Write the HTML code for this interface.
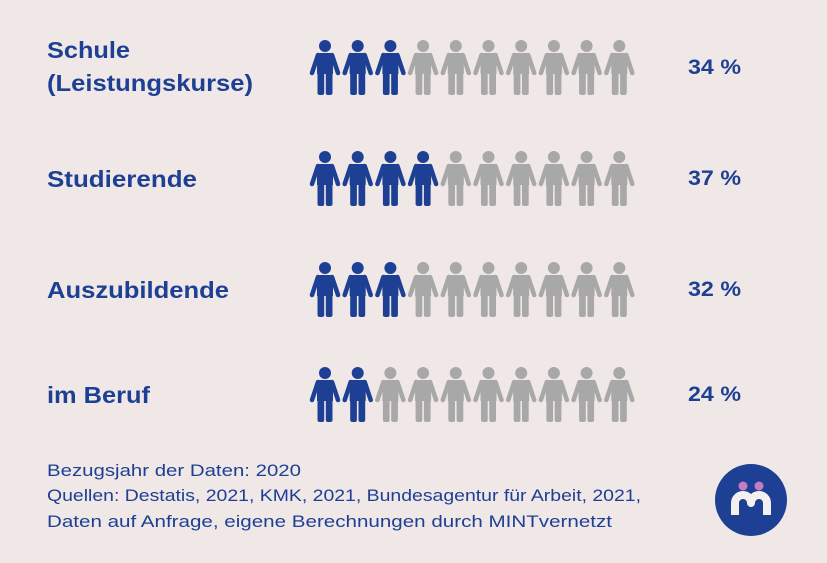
<!DOCTYPE html>
<html><head><meta charset="utf-8"><style>
body{margin:0;background:#f0e8e6;}
svg{display:block;font-family:"Liberation Sans",sans-serif;}
</style></head><body>
<svg id="c" width="827" height="563" viewBox="0 0 827 563">
<rect width="827" height="563" fill="#f0e8e6"/>
<g id="rows"></g>
<g fill="#1d3f94" font-size="16.5">
<text x="47" y="476" textLength="254" lengthAdjust="spacingAndGlyphs">Bezugsjahr der Daten: 2020</text>
<text x="47" y="501" textLength="594" lengthAdjust="spacingAndGlyphs">Quellen: Destatis, 2021, KMK, 2021, Bundesagentur für Arbeit, 2021,</text>
<text x="47" y="527" textLength="565" lengthAdjust="spacingAndGlyphs">Daten auf Anfrage, eigene Berechnungen durch MINTvernetzt</text>
</g>
<g>
<circle cx="751" cy="500" r="36" fill="#1d3f94"/>
<circle cx="743" cy="486" r="4.5" fill="#c47cc4"/>
<circle cx="759" cy="486" r="4.5" fill="#c47cc4"/>
<path d="M735 515 V503 a8 8 0 0 1 16 0 a8 8 0 0 1 16 0 V515" fill="none" stroke="#f5f0f0" stroke-width="8" stroke-linejoin="round"/>
</g>
</svg>
<script>
const categories=[["Schule","(Leistungskurse)"],["Studierende"],["Auszubildende"],["im Beruf"]];
const values=[34,37,32,24];
const rowY=[67,178,289,394];
const labelW={"Schule":83,"(Leistungskurse)":206,"Studierende":150,"Auszubildende":182,"im Beruf":103};
const NS="http://www.w3.org/2000/svg";
const g=document.getElementById("rows");
function mk(t,a,p){const e=document.createElementNS(NS,t);for(const k in a)e.setAttribute(k,a[k]);p.appendChild(e);return e;}
function person(cx,cy,col,p){
  const gg=mk("g",{transform:`translate(${cx},${cy-27})`,fill:col},p);
  
  
  mk("circle",{cx:0,cy:6,r:6},gg);
  mk("path",{d:"M-8 16 Q-8 13 -5 13 H5 Q8 13 8 16 V34 H-8 Z"},gg);
  mk("path",{d:"M-7 15 L-13 33 M7 15 L13 33",stroke:col,"stroke-width":4.5,"stroke-linecap":"round",fill:"none"},gg);
  mk("path",{d:"M-7.5 32 H-0.8 V53 Q-0.8 55 -3 55 H-5 Q-7.5 55 -7.5 53 Z M0.8 32 H7.5 V53 Q7.5 55 5 55 H3 Q0.8 55 0.8 53 Z"},gg);
}
categories.forEach((lab,i)=>{
  const y=rowY[i];
  const row=mk("g",{},g);
  
  
  const t=mk("text",{x:47,fill:"#1d3f94","font-size":23,"font-weight":"bold"},row);
  
  
  if(lab.length===2){
    mk("tspan",{x:47,y:y-9,textLength:labelW[lab[0]],lengthAdjust:"spacingAndGlyphs"},t).textContent=lab[0];
    mk("tspan",{x:47,y:y+24,textLength:labelW[lab[1]],lengthAdjust:"spacingAndGlyphs"},t).textContent=lab[1];
  } else { t.setAttribute("y",y+9); t.setAttribute("textLength",labelW[lab[0]]); t.setAttribute("lengthAdjust","spacingAndGlyphs"); t.textContent=lab[0]; }
  const filled=Math.round(values[i]/10);
  for(let k=0;k<10;k++) person(325+k*32.7,y,k<filled?"#1d3f94":"#a8a8a8",row);
  const v=mk("text",{x:688,y:y+7,fill:"#1d3f94","font-size":21,"font-weight":"bold",textLength:53,lengthAdjust:"spacingAndGlyphs"},row);
  
  
  v.textContent=values[i]+" %";
});
</script>
</body></html>
